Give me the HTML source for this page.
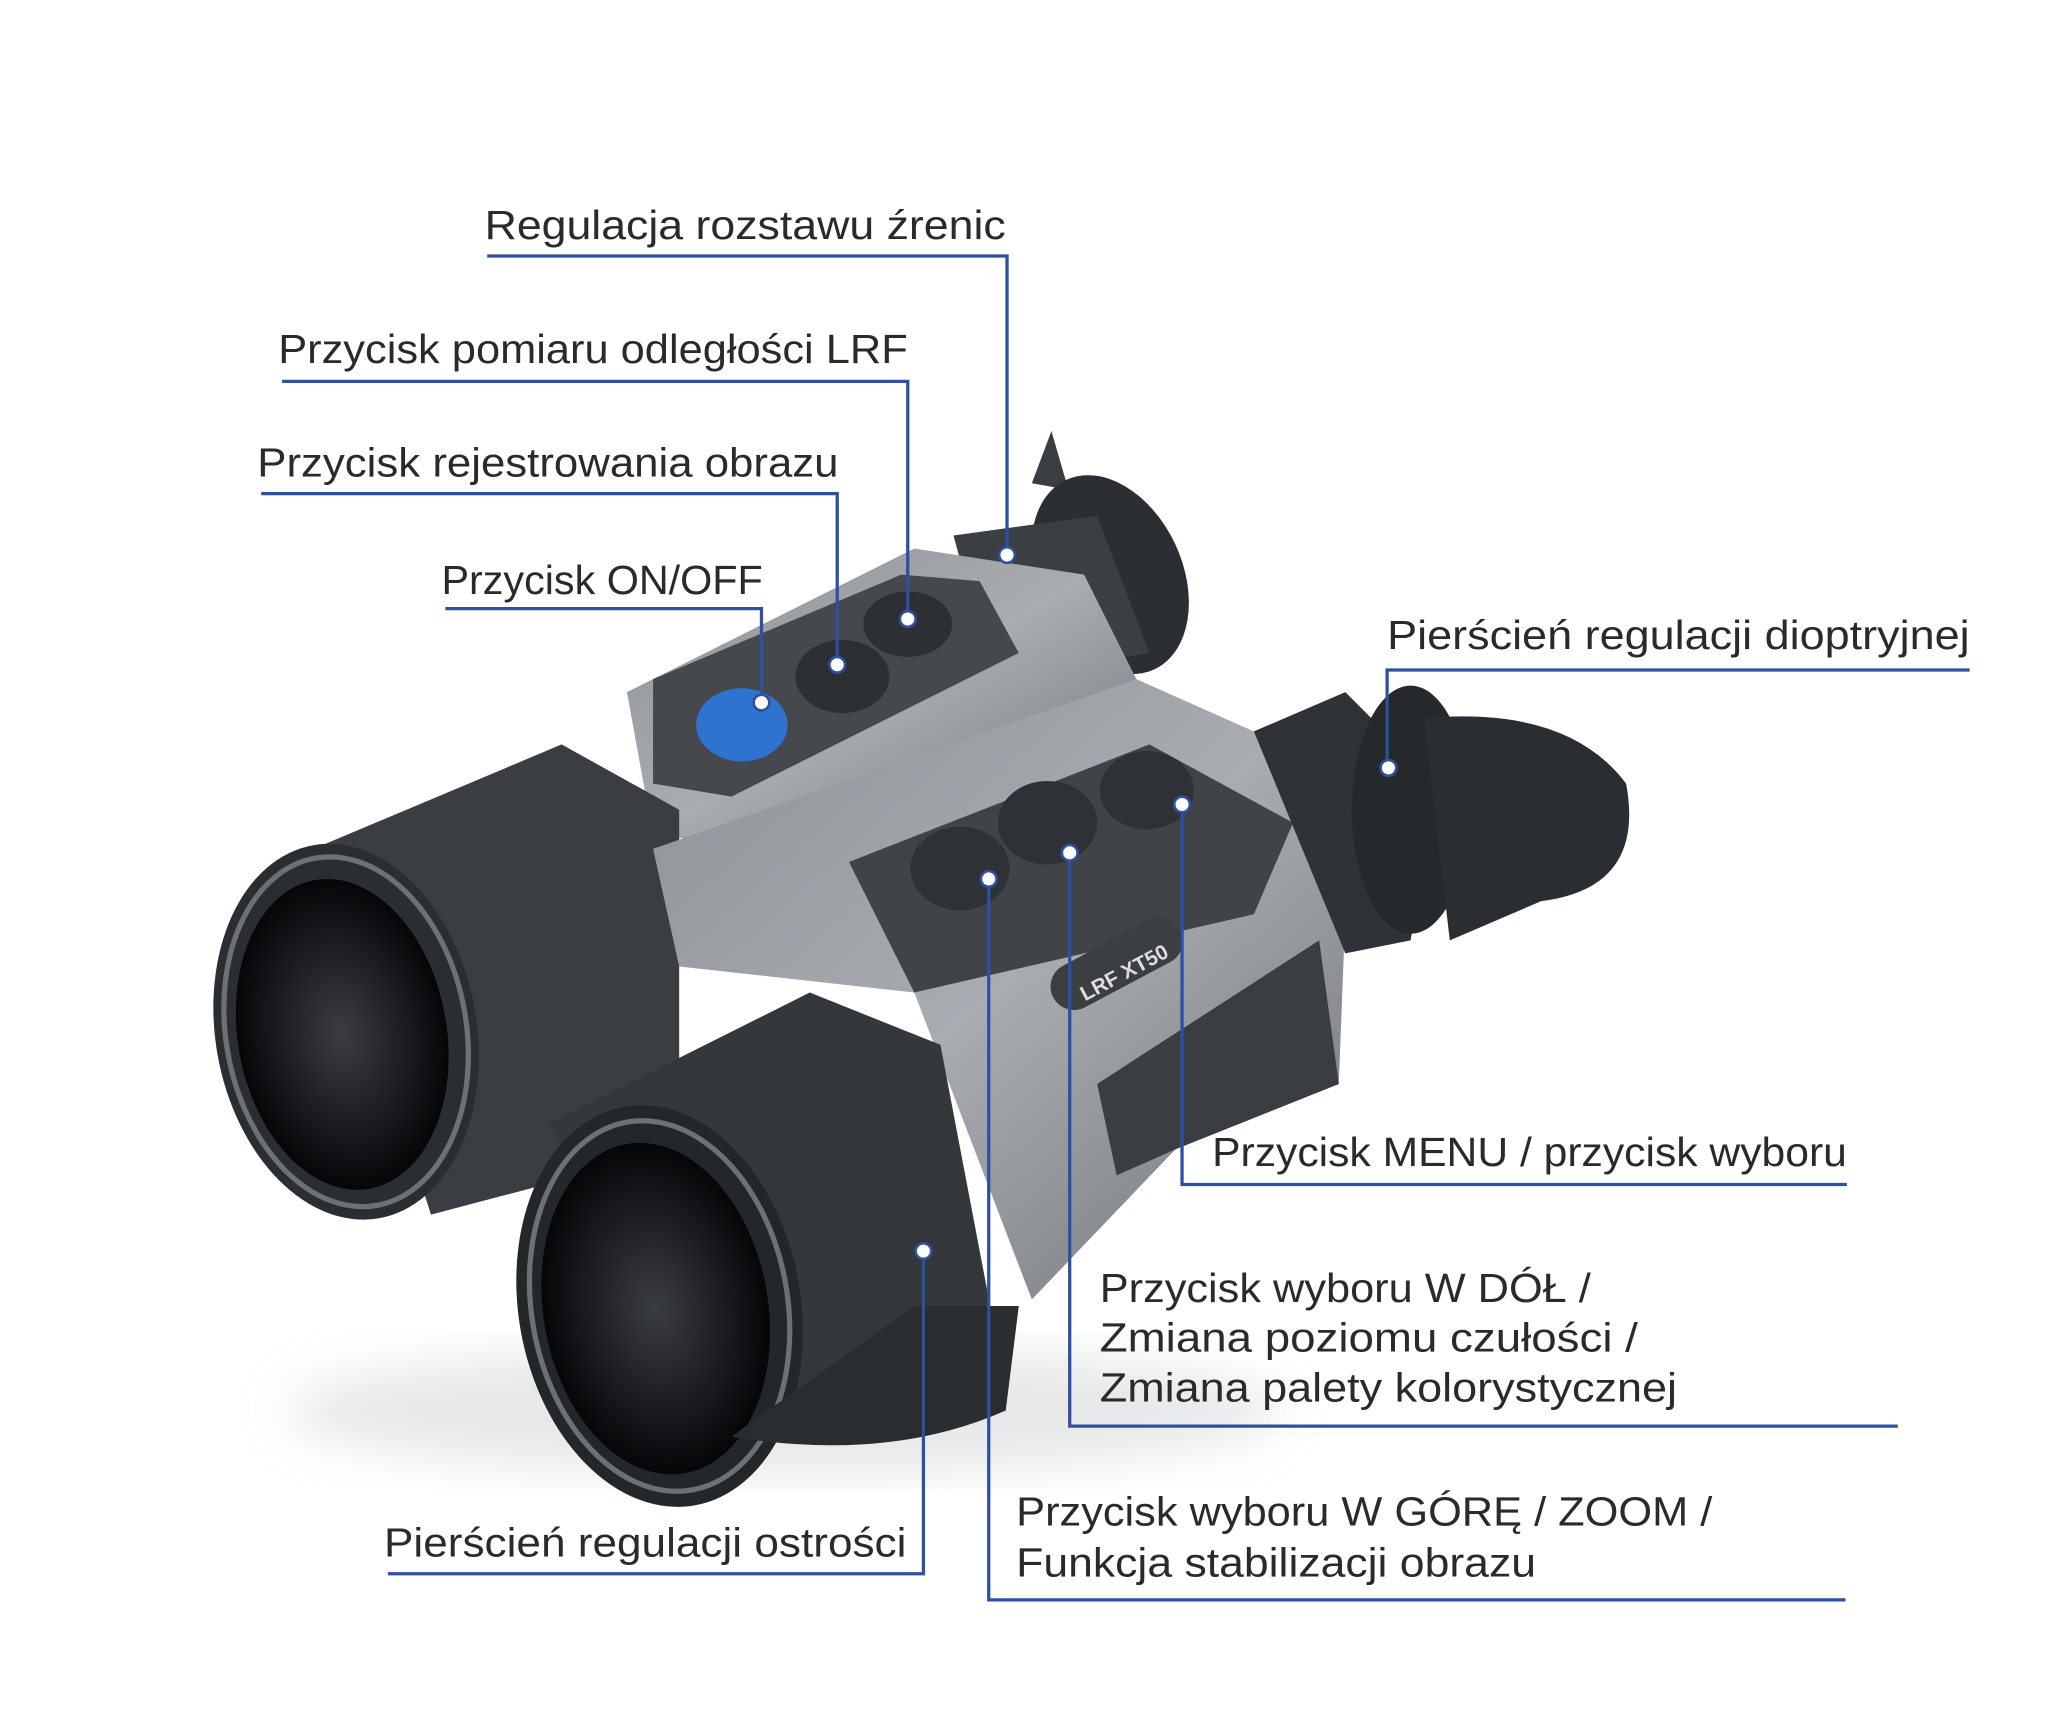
<!DOCTYPE html>
<html><head><meta charset="utf-8"><style>
html,body{margin:0;padding:0;background:#fff;}
svg{display:block;}
text{font-family:"Liberation Sans",sans-serif;font-size:31px;fill:#2a2a2a;}
</style></head><body>
<svg width="2048" height="1720" viewBox="0 0 1568 1317" preserveAspectRatio="none" xmlns="http://www.w3.org/2000/svg">
<defs>
<linearGradient id="body" x1="0" y1="0" x2="1" y2="1"><stop offset="0" stop-color="#8d9196"/><stop offset="0.5" stop-color="#a9adb2"/><stop offset="1" stop-color="#6f7378"/></linearGradient>
<radialGradient id="lens" cx="0.5" cy="0.5" r="0.5"><stop offset="0" stop-color="#3a3d42"/><stop offset="0.7" stop-color="#15171a"/><stop offset="1" stop-color="#050607"/></radialGradient>
<filter id="sh"><feGaussianBlur stdDeviation="18"/></filter>
</defs>
<ellipse cx="600" cy="1080" rx="380" ry="50" fill="#cfd1d3" filter="url(#sh)" opacity="0.5"/>
<!-- back eyepiece -->
<path d="M790 370 L805 330 L818 375 Z" fill="#3a3d42"/>
<ellipse cx="850" cy="440" rx="55" ry="80" transform="rotate(-25 850 440)" fill="#2b2e32"/>
<path d="M730 410 L840 395 L880 500 L760 520 Z" fill="#3b3f44"/>
<!-- back body -->
<path d="M480 530 L700 420 L830 440 L870 520 L620 650 L500 640 Z" fill="url(#body)"/>
<path d="M500 520 L690 440 L750 445 L780 500 L560 610 L500 600 Z" fill="#45494e"/>
<!-- left objective -->
<path d="M240 650 L430 570 L520 620 L520 880 L330 930 Z" fill="#3a3d42"/>
<ellipse cx="265" cy="790" rx="100" ry="145" transform="rotate(-10 265 790)" fill="#2a2d31"/>
<ellipse cx="265" cy="790" rx="92" ry="135" transform="rotate(-10 265 790)" fill="none" stroke="#6d7176" stroke-width="4"/>
<ellipse cx="262" cy="792" rx="80" ry="120" transform="rotate(-10 262 792)" fill="url(#lens)"/>
<!-- front body -->
<path d="M500 650 L870 520 L960 560 L1030 700 L1025 830 L900 880 L790 995 L700 760 L520 740 Z" fill="url(#body)"/>
<path d="M650 660 L880 570 L990 630 L960 700 L700 760 Z" fill="#404448"/>
<path d="M840 830 L1010 720 L1025 830 L900 880 L855 900 Z" fill="#3a3e42"/>
<rect x="800" y="720" width="110" height="36" rx="18" transform="rotate(-28 855 738)" fill="#3b3e42"/>
<text x="820" y="752" transform="rotate(-28 855 738)" style="font-size:16px;fill:#ddd;font-weight:bold">LRF XT50</text>
<ellipse cx="735" cy="665" rx="38" ry="32" fill="#2e3135"/>
<ellipse cx="802" cy="630" rx="38" ry="32" fill="#2e3135"/>
<ellipse cx="878" cy="605" rx="36" ry="30" fill="#2e3135"/>
<ellipse cx="568" cy="555" rx="35" ry="28" fill="#2f73d0"/>
<ellipse cx="645" cy="518" rx="36" ry="28" fill="#2c2f33"/>
<ellipse cx="695" cy="478" rx="34" ry="25" fill="#2c2f33"/>
<!-- right eyepiece -->
<path d="M960 560 L1030 530 L1100 600 L1080 720 L1030 730 Z" fill="#2f3236"/>
<ellipse cx="1080" cy="620" rx="45" ry="95" fill="#26292c"/>
<path d="M1090 550 Q1200 540 1245 600 Q1260 680 1180 690 L1110 720 Z" fill="#2a2d31"/>
<!-- right objective -->
<path d="M420 860 L620 760 L720 800 L760 1010 L560 1110 Z" fill="#34373b"/>
<ellipse cx="505" cy="1000" rx="108" ry="155" transform="rotate(-10 505 1000)" fill="#24272a"/>
<ellipse cx="505" cy="1000" rx="98" ry="143" transform="rotate(-10 505 1000)" fill="none" stroke="#6d7176" stroke-width="4"/>
<ellipse cx="502" cy="1002" rx="86" ry="128" transform="rotate(-10 502 1002)" fill="url(#lens)"/>
<path d="M560 1100 Q680 1120 770 1080 L780 1000 L700 1000 Z" fill="#2a2d30"/>

<g fill="none" stroke="#2f4f9f" stroke-width="2.5">
<polyline points="373,196 771,196 771,425"/>
<polyline points="216,292 695,292 695,474"/>
<polyline points="200,378 641,378 641,509"/>
<polyline points="341,466 583,466 583,538"/>
<polyline points="1508,513 1062,513 1062,588"/>
<polyline points="1414,907 905,907 905,616"/>
<polyline points="1453,1092 819,1092 819,653"/>
<polyline points="297,1205 707,1205 707,958"/>
<polyline points="1413,1225 757,1225 757,673"/>
</g>
<g fill="#fff" stroke="#2f4f9f" stroke-width="2">
<circle cx="771" cy="425" r="6"/><circle cx="695" cy="474" r="6"/><circle cx="641" cy="509" r="6"/><circle cx="583" cy="538" r="6"/>
<circle cx="1063" cy="588" r="6"/><circle cx="905" cy="616" r="6"/><circle cx="819" cy="653" r="6"/><circle cx="707" cy="958" r="6"/><circle cx="757" cy="673" r="6"/>
</g>
<text x="371" y="183" textLength="399" lengthAdjust="spacingAndGlyphs">Regulacja rozstawu źrenic</text>
<text x="213" y="278" textLength="482" lengthAdjust="spacingAndGlyphs">Przycisk pomiaru odległości LRF</text>
<text x="197" y="365" textLength="445" lengthAdjust="spacingAndGlyphs">Przycisk rejestrowania obrazu</text>
<text x="338" y="455" textLength="246" lengthAdjust="spacingAndGlyphs">Przycisk ON/OFF</text>
<text x="1062" y="497" textLength="446" lengthAdjust="spacingAndGlyphs">Pierścień regulacji dioptryjnej</text>
<text x="928" y="893" textLength="486" lengthAdjust="spacingAndGlyphs">Przycisk MENU / przycisk wyboru</text>
<text x="842" y="997" textLength="376" lengthAdjust="spacingAndGlyphs">Przycisk wyboru W DÓŁ /</text>
<text x="842" y="1035" textLength="412" lengthAdjust="spacingAndGlyphs">Zmiana poziomu czułości /</text>
<text x="842" y="1073" textLength="442" lengthAdjust="spacingAndGlyphs">Zmiana palety kolorystycznej</text>
<text x="294" y="1192" textLength="400" lengthAdjust="spacingAndGlyphs">Pierścień regulacji ostrości</text>
<text x="778" y="1168" textLength="533" lengthAdjust="spacingAndGlyphs">Przycisk wyboru W GÓRĘ / ZOOM /</text>
<text x="778" y="1207" textLength="398" lengthAdjust="spacingAndGlyphs">Funkcja stabilizacji obrazu</text>
</svg>
</body></html>
